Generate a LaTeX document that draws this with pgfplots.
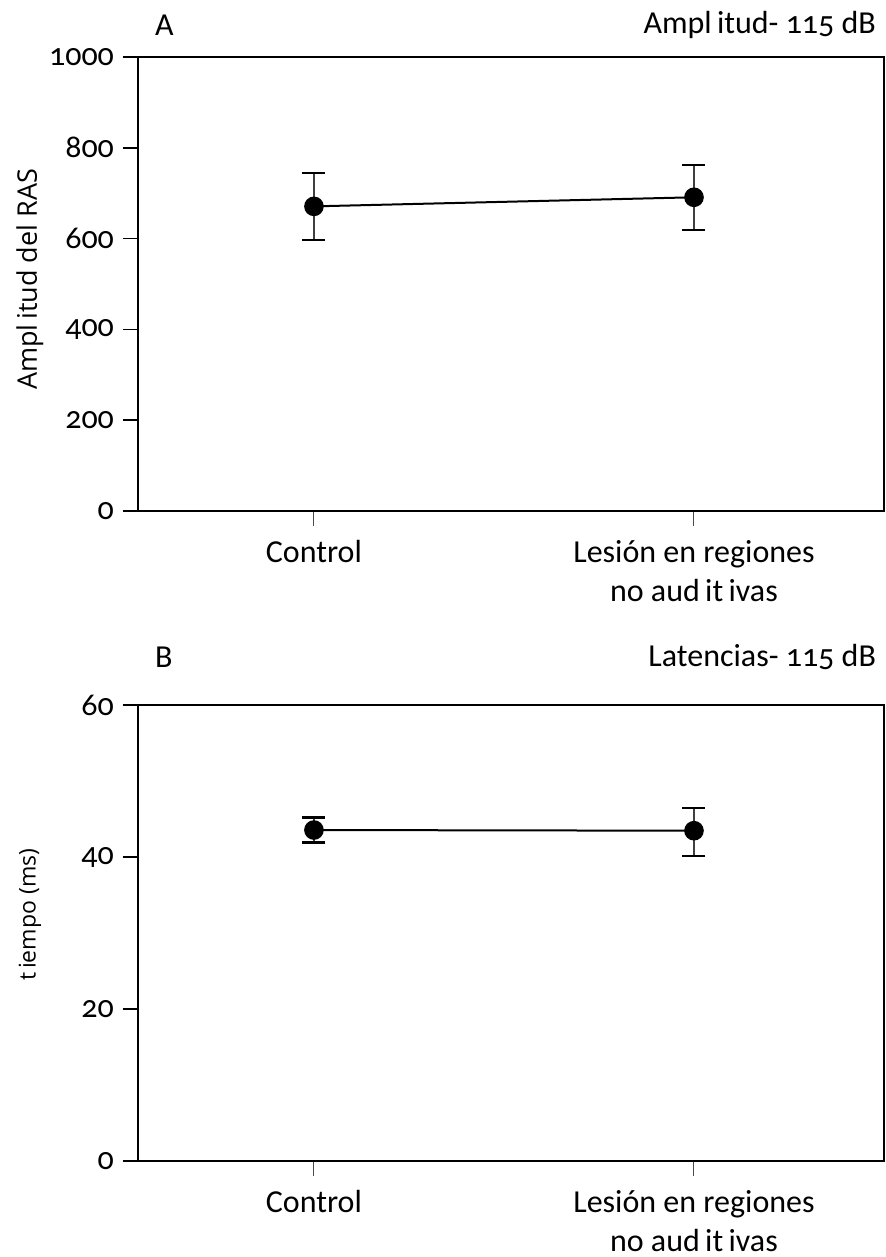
\documentclass[border=0pt]{standalone}
\usepackage{fontspec}
\setmainfont{Carlito}[Numbers=OldStyle]
\newfontfamily\labfont{Open Sans}
\usepackage{pgfplots}
\pgfplotsset{compat=1.18}
\newcommand{\bigf}{\fontsize{16pt}{19.5pt}\selectfont}
\pgfplotsset{
  panel/.style={
    scale only axis,
    width=373pt,
    xmin=-0.463, xmax=1.5,
    xtick={0,1},
    xticklabels={Control,{Lesión en regiones\\no aud\,it\,ivas}},
    xticklabel style={align=center, font=\bigf, yshift=-3.5pt},
    yticklabel style={font=\bigf, xshift=-1pt},
    /pgf/number format/assume math mode=true,
    /pgf/number format/1000 sep={},
    tick align=outside,
    major tick length=7.5pt,
    xtick style={draw=black!70, line width=0.5pt},
    ytick style={draw=black, line width=0.9pt},
    axis line style={line width=1pt},
    ytick pos=left, xtick pos=bottom,
    minor tick num=0,
    clip=false,
  },
  dataline/.style={
    black, line width=1pt, mark=*, mark size=4.4pt,
    error bars/.cd, y dir=both, y explicit,
    error bar style={line width=0.7pt, black!75},
    error mark options={rotate=90, mark size=5.75pt, line width=1.1pt, black},
  },
}
\begin{document}
\begin{tikzpicture}
\path[use as bounding box] (-69pt,28.5pt) rectangle (374pt,-600pt);
\begin{axis}[panel, at={(0pt,0pt)}, anchor=north west, height=227pt,
  ymin=0, ymax=1000, ytick={0,200,400,600,800,1000},
  ylabel={\labfont\fontsize{13.5pt}{16pt}\selectfont Ampl\,itud del RAS},
  ylabel style={at={(axis description cs:-0.145,0.51)}, anchor=center},
]
\addplot[dataline] coordinates {
  (0,671) +- (0,74)
  (1,691) +- (0,71.5)
};
\node[anchor=west, font=\bigf] at (rel axis cs:0,1) [xshift=5pt, yshift=16pt] {A};
\node[anchor=east, font=\bigf] at (rel axis cs:1,1) [xshift=-0.5pt, yshift=16pt] {Ampl\,itud- 115 dB};
\end{axis}
\begin{axis}[panel, at={(0pt,-324pt)}, anchor=north west, height=228pt,
  ymin=0, ymax=60, ytick={0,20,40,60},
  ylabel={\labfont\fontsize{11.5pt}{14pt}\selectfont t\,iempo (ms)},
  ylabel style={at={(axis description cs:-0.145,0.54)}, anchor=center},
]
\addplot[dataline] coordinates {
  (0,43.55) += (0,1.65) -= (0,1.65)
  (1,43.46) += (0,2.94) -= (0,3.36)
};
\node[anchor=west, font=\bigf] at (rel axis cs:0,1) [xshift=5pt, yshift=24pt] {B};
\node[anchor=east, font=\bigf] at (rel axis cs:1,1) [xshift=-0.5pt, yshift=24pt] {Latencias- 115 dB};
\end{axis}
\end{tikzpicture}
\end{document}
